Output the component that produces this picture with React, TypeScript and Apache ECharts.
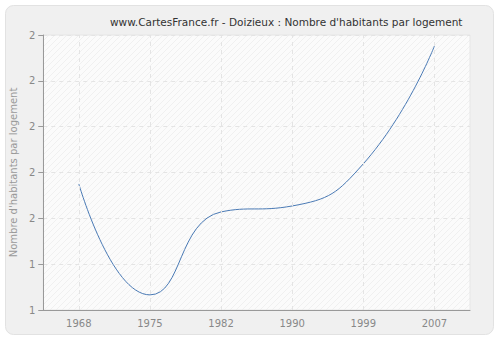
import React, { useEffect, useRef } from "react";
import * as echarts from "echarts";

const years = ["1968", "1975", "1982", "1990", "1999", "2007"];
const values = [1.575, 1.333, 1.514, 1.527, 1.619, 1.876];
const titleText = "www.CartesFrance.fr - Doizieux : Nombre d'habitants par logement";
const yName = "Nombre d'habitants par logement";

function hatch(): string {
  const c = document.createElement("canvas");
  c.width = 6;
  c.height = 6;
  const g = c.getContext("2d");
  if (!g) return "";
  g.fillStyle = "#fbfbfb";
  g.fillRect(0, 0, 6, 6);
  g.strokeStyle = "#f0f0f0";
  g.lineWidth = 1;
  g.beginPath();
  g.moveTo(0, 6);
  g.lineTo(6, 0);
  g.moveTo(-3, 3);
  g.lineTo(3, -3);
  g.moveTo(3, 9);
  g.lineTo(9, 3);
  g.stroke();
  return c.toDataURL();
}

export default function App() {
  const ref = useRef<HTMLDivElement>(null);
  useEffect(() => {
    document.body.style.margin = "0";
    const chart = echarts.init(ref.current!, null, { renderer: "svg" });
    const font = "DejaVu Sans";
    chart.setOption({
      animation: false,
      backgroundColor: "#ffffff",
      textStyle: { fontFamily: font },
      graphic: [
        {
          type: "rect",
          z: -10,
          shape: { x: 5.5, y: 5.5, width: 488, height: 329, r: 8 },
          style: { fill: "#f0f0f0", stroke: "#e2e2e2", lineWidth: 1 },
          silent: true,
        },
      ],
      title: {
        text: titleText,
        left: 105,
        top: 11,
        textStyle: { fontSize: 10.5, fontWeight: "normal", color: "#333333", fontFamily: font },
      },
      grid: {
        left: 40,
        right: 30,
        top: 35,
        bottom: 30,
        show: true,
        backgroundColor: { image: hatch(), repeat: "repeat", imageWidth: 6, imageHeight: 6 } as any,
        borderColor: "#e6e6e6",
        borderWidth: 1,
      },
      xAxis: {
        type: "category",
        data: years,
        boundaryGap: true,
        axisLine: { lineStyle: { color: "#999999" } },
        axisTick: { alignWithLabel: true, length: 5, lineStyle: { color: "#999999" } },
        axisLabel: { color: "#888888", fontSize: 10, fontFamily: font, margin: 8 },
        splitLine: { show: false },
      },
      yAxis: {
        type: "value",
        min: 1.3,
        max: 1.9,
        interval: 0.1,
        name: yName,
        nameLocation: "middle",
        nameGap: 25,
        nameTextStyle: { color: "#999999", fontSize: 10, fontFamily: font },
        axisLine: { show: true, lineStyle: { color: "#999999" } },
        axisTick: { show: true, length: 5, lineStyle: { color: "#999999" } },
        axisLabel: {
          color: "#888888",
          fontSize: 10,
          fontFamily: font,
          margin: 8,
          formatter: (v: number) => String(Math.round(v)),
        },
        splitLine: { lineStyle: { color: "#e4e4e4", type: [4, 4] } },
      },
      series: [
        {
          type: "line",
          data: values,
          smooth: 0.5,
          symbol: "none",
          lineStyle: { color: "#4a7ab5", width: 1 },
          markLine: {
            silent: true,
            symbol: "none",
            label: { show: false },
            lineStyle: { color: "#e4e4e4", type: [4, 4], width: 1 },
            data: years.map((y) => ({ xAxis: y })),
          },
        },
      ],
    });
    return () => chart.dispose();
  }, []);
  return <div ref={ref} style={{ width: 500, height: 340 }} />;
}
